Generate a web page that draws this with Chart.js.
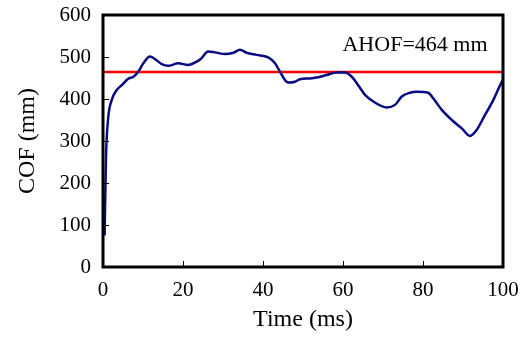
<!DOCTYPE html>
<html>
<head>
<meta charset="utf-8">
<script src="https://cdn.jsdelivr.net/npm/chart.js@4"></script>
<style>
  html, body { margin: 0; padding: 0; background: #fff; }
  #wrap { width: 528px; height: 338px; }
</style>
</head>
<body>
<div id="wrap"><canvas id="c" width="528" height="338"></canvas></div>
<script>
// COF trace
const timeMs = [0.4, 0.75, 1.3, 2.2, 3.4, 4.7, 6.3, 7.6, 8.8, 10.1, 11.75, 13, 14.7, 16.3, 18.8,
  21.3, 23.4, 24.5, 26.3, 28, 30.5, 32.6, 34.25, 35.9, 38.4, 41.3, 43, 44.25, 45.5, 46.3,
  48, 49.25, 51.75, 53.4, 55.9, 58.4, 60.5, 62.2, 63.8, 65.5, 67.6, 70.9, 73, 74.7, 76.75,
  78.4, 81.3, 82.6, 84.7, 87.2, 89.7, 91.75, 93.4, 95.5, 97.6, 99.7, 100];
const cofMm = [75, 262, 355, 398, 421, 433, 448, 453, 465, 485, 501, 495, 483, 479, 485,
  481, 489, 496, 513, 511, 507, 510, 517, 510, 505, 499, 485, 465, 445, 439,
  441, 447, 449, 451, 457, 463, 463, 453, 433, 410, 394, 380, 386, 406, 415,
  417, 415, 401, 374, 350, 330, 312, 326, 362, 398, 441, 445];

const ahofValue = 464;
const ahofLabel = 'AHOF=464 mm';
const ahofLabelPos = { x: 78, y: 529 };

const xTicks = [0, 20, 40, 60, 80, 100];
const yTicks = [0, 100, 200, 300, 400, 500, 600];

const FONT = "'Liberation Serif', 'Times New Roman', serif";

// frame, inward tick marks and the AHOF text
const framePlugin = {
  id: 'frame',
  afterDatasetsDraw(chart) {
    const { ctx, chartArea: a, scales } = chart;
    ctx.save();
    ctx.strokeStyle = '#000';
    ctx.lineWidth = 1;
    ctx.beginPath();
    for (const v of xTicks.slice(1, -1)) {
      const px = Math.round(scales.x.getPixelForValue(v)) + 0.5;
      ctx.moveTo(px, a.bottom);
      ctx.lineTo(px, a.bottom - 6);
    }
    for (const v of yTicks.slice(1, -1)) {
      const py = Math.round(scales.y.getPixelForValue(v)) + 0.5;
      ctx.moveTo(a.left, py);
      ctx.lineTo(a.left + 6, py);
    }
    ctx.stroke();

    ctx.lineWidth = 3;
    ctx.strokeRect(a.left, a.top, a.right - a.left, a.bottom - a.top);

    ctx.fillStyle = '#000';
    ctx.font = '22px ' + FONT;
    ctx.textAlign = 'center';
    ctx.textBaseline = 'middle';
    ctx.fillText(ahofLabel, scales.x.getPixelForValue(ahofLabelPos.x),
      scales.y.getPixelForValue(ahofLabelPos.y));
    ctx.restore();
  }
};

new Chart(document.getElementById('c'), {
  type: 'scatter',
  data: {
    datasets: [
      {
        label: 'COF',
        data: timeMs.map((t, i) => ({ x: t, y: cofMm[i] })),
        showLine: true,
        borderColor: '#0a0a82',
        borderWidth: 2.5,
        pointRadius: 0,
        cubicInterpolationMode: 'monotone',
      },
      {
        label: 'AHOF',
        data: [{ x: 0, y: ahofValue }, { x: 100, y: ahofValue }],
        showLine: true,
        borderColor: '#ff0000',
        borderWidth: 2.5,
        pointRadius: 0,
      },
    ],
  },
  options: {
    responsive: false,
    animation: false,
    layout: { padding: { top: 15, right: 25, left: 0, bottom: 0 } },
    plugins: { legend: { display: false }, tooltip: { enabled: false } },
    scales: {
      x: {
        type: 'linear',
        min: 0,
        max: 100,
        afterBuildTicks: (s) => { s.ticks = xTicks.map(v => ({ value: v })); },
        afterFit: (s) => { s.height = 71; s.paddingLeft = 0; s.paddingRight = 0; },
        grid: { display: false, drawTicks: false },
        border: { display: false },
        ticks: { color: '#000', padding: 11, font: { family: FONT, size: 21 } },
        title: {
          display: true,
          text: 'Time (ms)',
          color: '#000',
          padding: { top: 0, bottom: 4 },
          font: { family: FONT, size: 24 },
        },
      },
      y: {
        min: 0,
        max: 600,
        afterBuildTicks: (s) => { s.ticks = yTicks.map(v => ({ value: v })); },
        afterFit: (s) => { s.width = 103; s.paddingTop = 0; s.paddingBottom = 0; },
        grid: { display: false, drawTicks: false },
        border: { display: false },
        ticks: { color: '#000', padding: 12, font: { family: FONT, size: 21 } },
        title: {
          display: true,
          text: 'COF (mm)',
          color: '#000',
          padding: { top: 13, bottom: 0 },
          font: { family: FONT, size: 24 },
        },
      },
    },
  },
  plugins: [framePlugin],
});
</script>
</body>
</html>
